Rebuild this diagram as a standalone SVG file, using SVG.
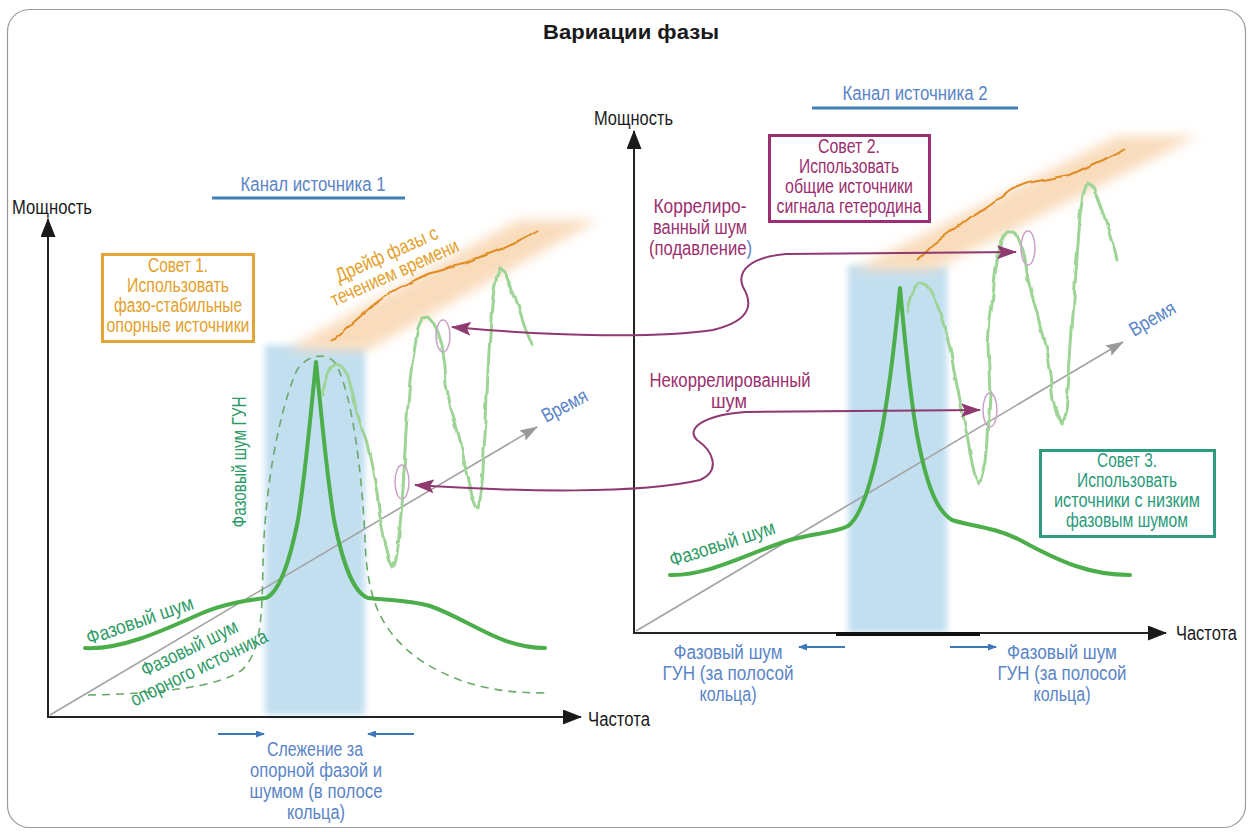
<svg xmlns="http://www.w3.org/2000/svg" width="1252" height="832" viewBox="0 0 1252 832">
<style>
.t{font-family:"Liberation Sans",Arial,sans-serif;font-size:20px}
.c{text-anchor:middle}
.blue{fill:#5a84c6}
.mag{fill:#9b2f6f}
.org{fill:#e3a02c}
.teal{fill:#2a9a7a}
.grn{fill:#2e9a66}
.blk{fill:#1a1a1a}
.axis{stroke:#222;stroke-width:2;fill:none}
.time{stroke:#a3a3a3;stroke-width:1.6;fill:none}
.solid{stroke:#4cae4a;stroke-width:4;fill:none;stroke-linecap:round;stroke-linejoin:round}
.dash{stroke:#6aa86a;stroke-width:1.6;fill:none;stroke-dasharray:8 6}
.trace{stroke:#9ed596;stroke-width:3;fill:none;stroke-linejoin:round;stroke-linecap:round}
.ell{stroke:#c9a2c9;stroke-width:1.5;fill:none}
.drift{stroke:#e08c24;stroke-width:2;fill:none;stroke-linejoin:round}
.conn{stroke:#8e3a70;stroke-width:2;fill:none}
.barrow{stroke:#3a78b8;stroke-width:2;fill:none}
.uline{stroke:#3f7fb5;stroke-width:3}
</style>
<defs>
<filter id="blurB" x="-20%" y="-10%" width="140%" height="120%"><feGaussianBlur stdDeviation="3"/></filter>
<filter id="blurO" x="-20%" y="-30%" width="140%" height="160%"><feGaussianBlur stdDeviation="6"/></filter>
<filter id="rough" filterUnits="userSpaceOnUse" x="0" y="0" width="1252" height="832"><feTurbulence type="fractalNoise" baseFrequency="0.05" numOctaves="2" seed="4"/><feDisplacementMap in="SourceGraphic" scale="5" xChannelSelector="R" yChannelSelector="G"/></filter>
<marker id="mArr" viewBox="0 0 20 14" markerWidth="20" markerHeight="14" refX="19" refY="7" orient="auto-start-reverse" markerUnits="userSpaceOnUse"><path d="M0,0 L20,7 L0,14 L4,7 z" fill="#8e3a70"/></marker>
<marker id="aArr" viewBox="0 0 19 15" markerWidth="19" markerHeight="15" refX="18" refY="7.5" orient="auto" markerUnits="userSpaceOnUse"><path d="M0,0 L19,7.5 L0,15 z" fill="#1a1a1a"/></marker>
<marker id="tArr" viewBox="0 0 18 12" markerWidth="18" markerHeight="12" refX="17" refY="6" orient="auto" markerUnits="userSpaceOnUse"><path d="M0,0 L18,6 L0,12 L3,6 z" fill="#9a9a9a"/></marker>
<marker id="bArr" viewBox="0 0 9 7" markerWidth="9" markerHeight="7" refX="8" refY="3.5" orient="auto" markerUnits="userSpaceOnUse"><path d="M0,0 L9,3.5 L0,7 z" fill="#3a78b8"/></marker>
</defs>

<rect x="7.5" y="9.5" width="1238" height="818" rx="22" ry="22" fill="#fff" stroke="#9a9a9a" stroke-width="1.2"/>

<g id="title"><text class="t blk c" x="631" y="39" font-size="24" font-weight="bold" textLength="176" lengthAdjust="spacingAndGlyphs">Вариации фазы</text></g>

<!-- LEFT CHART -->
<g id="chart1">
<rect x="265" y="345" width="100" height="370" fill="#c2dff0" filter="url(#blurB)"/>
<polygon points="286,350 518,220 598,220 368,350" fill="#f9dcbc" filter="url(#blurO)"/>
<polyline class="drift" filter="url(#rough)" points="330,342 345,330 354,322 363,314 372,306 380,300 397,290 415,280 430,273 443,270 455,265 468,262 480,257 498,250 513,243 520,240 528,236 538,230"/>
<line class="time" x1="50" y1="715" x2="537" y2="427" marker-end="url(#tArr)"/>
<path class="dash" d="M 88 695 C 150 694, 218 688, 242 670 C 262 652, 262 610, 263 565 C 264 500, 276 420, 296 372 C 304 356, 326 350, 336 364 C 352 395, 362 470, 365 540 C 367 595, 378 630, 420 660 C 460 686, 500 693, 545 693"/>
<path class="solid" d="M 85 648 C 120 650, 160 632, 200 614 C 225 603, 250 600, 266 598 C 280 592, 290 560, 298 520 C 306 470, 312 400, 316 362 C 320 400, 326 470, 334 520 C 342 560, 352 592, 368 598 C 385 600, 410 600, 430 606 C 470 620, 500 648, 545 648"/>
<polyline class="trace" filter="url(#rough)" points="323,395 327,378 331,368 337,365 343,368 348,376 352,392 357,413 362,428 367,443 370,458 373,472 377,493 380,517 383,532 387,550 390,562 393,568 396,560 398,547 400,525 402,505 403,490 404,470 405,450 406,430 408,405 410,380 412,365 415,345 418,328 422,318 428,317 434,324 438,332 442,345 445,365 446,385 450,405 456,425 460,440 464,460 468,480 471,495 475,505 478,508 481,495 483,470 484,450 486,420 487,395 488,370 490,335 492,305 494,290 497,276 500,268 505,272 509,283 513,292 518,305 522,318 526,330 532,345"/>
<ellipse class="ell" cx="443" cy="336" rx="7" ry="16"/>
<ellipse class="ell" cx="402" cy="482" rx="7" ry="17"/>
<line class="axis" x1="48" y1="718" x2="48" y2="219" marker-end="url(#aArr)"/>
<line class="axis" x1="47" y1="717" x2="581" y2="717" marker-end="url(#aArr)"/>
</g>

<g id="ch1-labels">
<text class="t blk" x="12" y="214" textLength="80" lengthAdjust="spacingAndGlyphs">Мощность</text>
<text class="t blk" x="588" y="726" textLength="62" lengthAdjust="spacingAndGlyphs">Частота</text>
<text class="t blue c" x="313" y="191" textLength="145" lengthAdjust="spacingAndGlyphs">Канал источника 1</text>
<line class="uline" x1="212" y1="198" x2="405" y2="198"/>
<g transform="translate(393,269) rotate(-24)">
<text class="t org c" x="0" y="-9.5" textLength="110" lengthAdjust="spacingAndGlyphs">Дрейф фазы с</text>
<text class="t org c" x="0" y="10.5" textLength="138" lengthAdjust="spacingAndGlyphs">течением времени</text>
</g>
<text class="t grn c" transform="translate(246,462) rotate(-90)" x="0" y="0" textLength="131" lengthAdjust="spacingAndGlyphs">Фазовый шум ГУН</text>
<text class="t grn" transform="translate(89,645) rotate(-19)" x="0" y="0" textLength="112" lengthAdjust="spacingAndGlyphs">Фазовый шум</text>
<g transform="translate(197,664) rotate(-26)">
<text class="t grn c" x="0" y="-11" textLength="105" lengthAdjust="spacingAndGlyphs">Фазовый шум</text>
<text class="t grn c" x="0" y="11" textLength="150" lengthAdjust="spacingAndGlyphs">опорного источника</text>
</g>
<text class="t blue" transform="translate(546,423) rotate(-28)" x="0" y="0" textLength="49" lengthAdjust="spacingAndGlyphs">Время</text>
<line class="barrow" x1="218" y1="734" x2="264" y2="734" marker-end="url(#bArr)"/>
<line class="barrow" x1="414" y1="734" x2="368" y2="734" marker-end="url(#bArr)"/>
<text class="t blue c" x="315" y="756" textLength="96" lengthAdjust="spacingAndGlyphs">Слежение за</text>
<text class="t blue c" x="316" y="777" textLength="132" lengthAdjust="spacingAndGlyphs">опорной фазой и</text>
<text class="t blue c" x="316" y="798" textLength="133" lengthAdjust="spacingAndGlyphs">шумом (в полосе</text>
<text class="t blue c" x="316" y="819" textLength="58" lengthAdjust="spacingAndGlyphs">кольца)</text>
</g>

<g id="tip1">
<rect x="102.5" y="254.5" width="151" height="87" fill="#fff" stroke="#e3a43a" stroke-width="3"/>
<text class="t org c" x="178" y="272" textLength="60" lengthAdjust="spacingAndGlyphs">Совет 1.</text>
<text class="t org c" x="178" y="292" textLength="102" lengthAdjust="spacingAndGlyphs">Использовать</text>
<text class="t org c" x="178" y="312" textLength="128" lengthAdjust="spacingAndGlyphs">фазо-стабильные</text>
<text class="t org c" x="178" y="332" textLength="143" lengthAdjust="spacingAndGlyphs">опорные источники</text>
</g>

<!-- RIGHT CHART -->
<g id="chart2">
<rect x="848" y="265" width="99" height="368" fill="#c2dff0" filter="url(#blurB)"/>
<polygon points="853,270 1118,136 1198,136 933,270" fill="#f9dcbc" filter="url(#blurO)"/>
<polyline class="drift" filter="url(#rough)" points="917,260 930,247 945,236 957,227 972,215 987,207 1000,198 1010,190 1025,184 1043,180 1058,177 1070,175 1085,168 1103,160 1115,154 1125,148"/>
<line class="time" x1="636" y1="631" x2="1123" y2="342" marker-end="url(#tArr)"/>
<path class="solid" d="M 670 575 C 710 576, 750 552, 790 540 C 815 533, 835 533, 848 526 C 862 516, 872 480, 880 440 C 890 390, 896 330, 900 288 C 904 330, 910 400, 918 440 C 926 480, 935 510, 952 520 C 970 526, 995 527, 1020 540 C 1060 562, 1090 575, 1130 575"/>
<polyline class="trace" filter="url(#rough)" points="908,312 911,298 915,288 920,283 926,286 931,292 936,303 941,316 945,330 950,347 953,365 957,385 961,405 965,425 969,445 972,463 975,477 978,484 982,478 986,462 988,440 989,415 990,395 989,370 988,345 990,320 993,295 995,275 998,255 1001,240 1006,233 1012,233 1018,238 1023,250 1026,265 1028,280 1032,295 1037,313 1042,333 1046,350 1050,375 1053,400 1057,415 1062,423 1066,410 1068,390 1070,360 1072,330 1074,300 1076,270 1078,245 1080,215 1083,195 1087,183 1092,186 1097,197 1101,208 1106,222 1110,235 1114,248 1117,260"/>
<ellipse class="ell" cx="1028" cy="248" rx="7" ry="17"/>
<ellipse class="ell" cx="990" cy="410" rx="7" ry="17"/>
<line class="axis" x1="634" y1="634" x2="634" y2="131" marker-end="url(#aArr)"/>
<line class="axis" x1="633" y1="633" x2="1166" y2="633" marker-end="url(#aArr)"/>
<line x1="836" y1="634" x2="980" y2="634" stroke="#111" stroke-width="4"/>
</g>

<g id="ch2-labels">
<text class="t blk" x="594" y="125" textLength="79" lengthAdjust="spacingAndGlyphs">Мощность</text>
<text class="t blk" x="1176" y="640" textLength="61" lengthAdjust="spacingAndGlyphs">Частота</text>
<text class="t blue c" x="915" y="100" textLength="145" lengthAdjust="spacingAndGlyphs">Канал источника 2</text>
<line class="uline" x1="812" y1="108" x2="1018" y2="108"/>
<text class="t grn" transform="translate(672,567) rotate(-18)" x="0" y="0" textLength="110" lengthAdjust="spacingAndGlyphs">Фазовый шум</text>
<text class="t blue" transform="translate(1134,337) rotate(-30)" x="0" y="0" textLength="50" lengthAdjust="spacingAndGlyphs">Время</text>
<line class="barrow" x1="845" y1="647" x2="799" y2="647" marker-end="url(#bArr)"/>
<line class="barrow" x1="950" y1="647" x2="996" y2="647" marker-end="url(#bArr)"/>
<text class="t blue c" x="728" y="659" textLength="109" lengthAdjust="spacingAndGlyphs">Фазовый шум</text>
<text class="t blue c" x="728" y="680" textLength="131" lengthAdjust="spacingAndGlyphs">ГУН (за полосой</text>
<text class="t blue c" x="728" y="701" textLength="57" lengthAdjust="spacingAndGlyphs">кольца)</text>
<text class="t blue c" x="1062" y="659" textLength="110" lengthAdjust="spacingAndGlyphs">Фазовый шум</text>
<text class="t blue c" x="1062" y="680" textLength="129" lengthAdjust="spacingAndGlyphs">ГУН (за полосой</text>
<text class="t blue c" x="1062" y="701" textLength="57" lengthAdjust="spacingAndGlyphs">кольца)</text>
<text class="t mag c" x="700" y="213" textLength="93" lengthAdjust="spacingAndGlyphs">Коррелиро-</text>
<text class="t mag c" x="700" y="234" textLength="94" lengthAdjust="spacingAndGlyphs">ванный шум</text>
<text class="t mag" x="649" y="255" textLength="103" lengthAdjust="spacingAndGlyphs">(подавление<tspan class="blue">)</tspan></text>
<text class="t mag c" x="730" y="387" textLength="161" lengthAdjust="spacingAndGlyphs">Некоррелированный</text>
<text class="t mag c" x="729" y="408" textLength="36" lengthAdjust="spacingAndGlyphs">шум</text>
</g>

<g id="tip2">
<rect x="769.5" y="135.5" width="160" height="86" fill="#fff" stroke="#9b2f6f" stroke-width="3"/>
<text class="t mag c" x="849" y="153" textLength="62" lengthAdjust="spacingAndGlyphs">Совет 2.</text>
<text class="t mag c" x="849" y="173" textLength="100" lengthAdjust="spacingAndGlyphs">Использовать</text>
<text class="t mag c" x="849" y="193" textLength="128" lengthAdjust="spacingAndGlyphs">общие источники</text>
<text class="t mag c" x="849" y="213" textLength="145" lengthAdjust="spacingAndGlyphs">сигнала гетеродина</text>
</g>

<g id="tip3">
<rect x="1040.5" y="450.5" width="174" height="86" fill="#fff" stroke="#2f9a80" stroke-width="3"/>
<text class="t teal c" x="1127" y="467" textLength="60" lengthAdjust="spacingAndGlyphs">Совет 3.</text>
<text class="t teal c" x="1127" y="487" textLength="100" lengthAdjust="spacingAndGlyphs">Использовать</text>
<text class="t teal c" x="1127" y="507" textLength="146" lengthAdjust="spacingAndGlyphs">источники с низким</text>
<text class="t teal c" x="1127" y="527" textLength="122" lengthAdjust="spacingAndGlyphs">фазовым шумом</text>
</g>

<g id="connectors">
<path class="conn" d="M 1016 252 L 786 254 C 752 257, 736 270, 743 287 C 752 302, 754 320, 713 330 C 660 338, 560 337, 452 327" marker-start="url(#mArr)" marker-end="url(#mArr)"/>
<path class="conn" d="M 980 410 L 745 412 C 705 415, 685 428, 697 440 C 712 450, 722 470, 700 480 C 640 494, 520 492, 415 485" marker-start="url(#mArr)" marker-end="url(#mArr)"/>
</g>
</svg>
